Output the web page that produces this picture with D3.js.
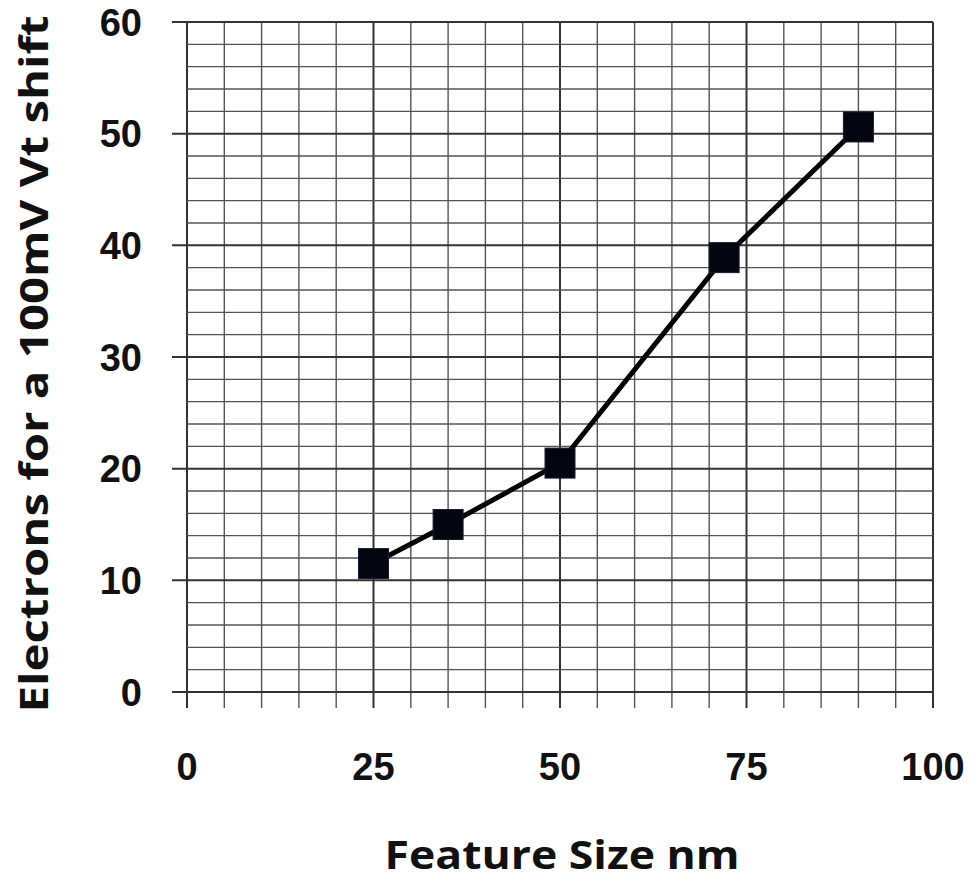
<!DOCTYPE html>
<html>
<head>
<meta charset="utf-8">
<script src="https://cdn.jsdelivr.net/npm/d3@7"></script>
<style>
html,body{margin:0;padding:0;background:#fff;}
svg{display:block;}
text{font-family:"Open Sans","DejaVu Sans",sans-serif;font-weight:bold;fill:#111;}
text.tick{font-family:"Liberation Sans","Open Sans",sans-serif;}
</style>
</head>
<body>
<svg id="chart" width="978" height="881"></svg>
<script>
const featureSize = [25, 35, 50, 72, 90];
const electrons = [11.5, 15.0, 20.5, 38.9, 50.6];
const xTickLabels = [0, 25, 50, 75, 100];
const yTickLabels = [0, 10, 20, 30, 40, 50, 60];
const xTitle = "Feature Size nm";
const yTitle = "Electrons for a 100mV Vt shift";

const svg = d3.select("#chart");
const x = d3.scaleLinear().domain([0, 100]).range([187, 933]);
const y = d3.scaleLinear().domain([0, 60]).range([692, 22]);

const grid = svg.append("g");
// vertical grid lines every 5 units, extending below the axis as ticks
d3.range(0, 101, 5).forEach(v => {
  const major = v % 25 === 0;
  grid.append("line")
    .attr("x1", x(v)).attr("x2", x(v))
    .attr("y1", y(60)).attr("y2", y(0) + 16)
    .attr("stroke", major ? "#333" : "#555")
    .attr("stroke-width", major ? 2 : 1.4);
});
// horizontal grid lines every 2 units; majors every 10 extend left as ticks
d3.range(0, 61, 2).forEach(v => {
  const major = v % 10 === 0;
  grid.append("line")
    .attr("x1", major ? x(0) - 15 : x(0)).attr("x2", x(100))
    .attr("y1", y(v)).attr("y2", y(v))
    .attr("stroke", major ? "#333" : "#555")
    .attr("stroke-width", major ? 2 : 1.4);
});

// tick labels
svg.append("g").selectAll("text").data(xTickLabels).join("text")
  .attr("class", "tick")
  .attr("x", d => x(d)).attr("y", 780)
  .attr("text-anchor", "middle")
  .attr("font-size", 38)
  .text(d => d);

svg.append("g").selectAll("text").data(yTickLabels).join("text")
  .attr("class", "tick")
  .attr("x", 142).attr("y", d => y(d) + 13.5)
  .attr("text-anchor", "end")
  .attr("font-size", 38)
  .text(d => d);

// axis titles
svg.append("text")
  .attr("x", 562).attr("y", 869)
  .attr("text-anchor", "middle")
  .attr("font-size", 40)
  .attr("textLength", 355).attr("lengthAdjust", "spacingAndGlyphs")
  .text(xTitle);

svg.append("text")
  .attr("transform", "translate(48,364) rotate(-90)")
  .attr("text-anchor", "middle")
  .attr("font-size", 40)
  .attr("textLength", 697).attr("lengthAdjust", "spacingAndGlyphs")
  .text(yTitle);

// data line
const pts = featureSize.map((d, i) => [d, electrons[i]]);
svg.append("path")
  .datum(pts)
  .attr("fill", "none")
  .attr("stroke", "#000")
  .attr("stroke-width", 5)
  .attr("d", d3.line().x(d => x(d[0])).y(d => y(d[1])));

// square markers
const s = 30;
svg.append("g").selectAll("rect").data(pts).join("rect")
  .attr("x", d => x(d[0]) - s / 2)
  .attr("y", d => y(d[1]) - s / 2)
  .attr("width", s).attr("height", s)
  .attr("fill", "#05050f")
  .attr("stroke", "#1a1a30")
  .attr("stroke-width", 1);
</script>
</body>
</html>
